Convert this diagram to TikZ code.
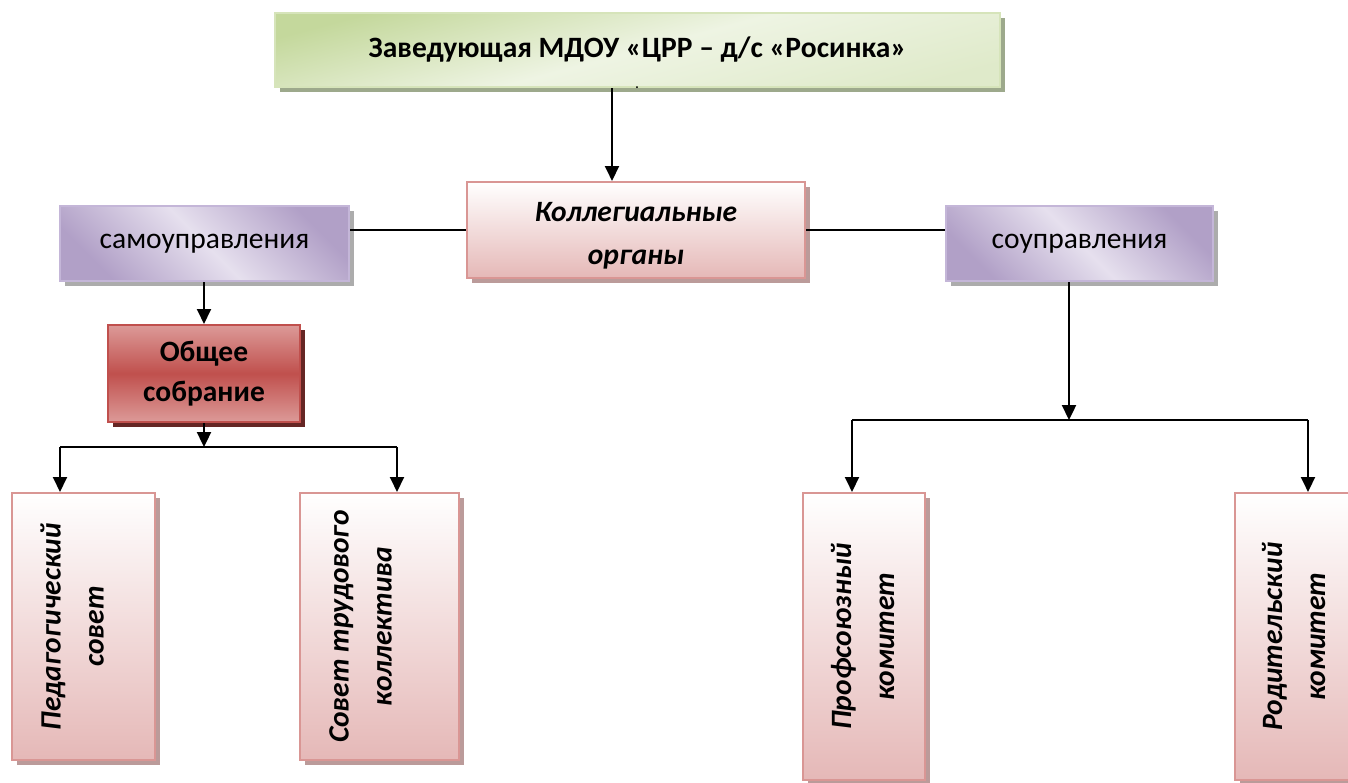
\documentclass[tikz,border=0pt]{standalone}
\usepackage{fontspec}
\setmainfont{Carlito}
\usetikzlibrary{arrows.meta,shadows}
\definecolor{grnA}{HTML}{C4D89C}
\definecolor{grnB}{HTML}{EEF4E3}
\definecolor{grnS}{HTML}{9DA98C}
\definecolor{vioA}{HTML}{B1A0C7}
\definecolor{vioB}{HTML}{E6E0EE}
\definecolor{vioL}{HTML}{C4B6D8}
\definecolor{pnkA}{HTML}{E5B8B7}
\definecolor{pnkL}{HTML}{D99694}
\definecolor{pnkS}{HTML}{BB9B9A}
\definecolor{redA}{HTML}{DC9A98}
\definecolor{redB}{HTML}{C0504D}
\definecolor{redS}{HTML}{652624}
\def\u{0.02cm}
\newcommand{\vlab}[2]{\rotatebox{90}{\begin{tabular}{@{}c@{}}#1\\#2\end{tabular}}}
\begin{document}
\begin{tikzpicture}[x=\u,y=-\u,>={Triangle[length=8.5pt,width=8pt]},line width=1.1pt,
  font=\fontsize{16.8}{24}\selectfont,
  box/.style={draw,line width=1.2pt,inner sep=0pt,align=center},
  headbox/.style={box,draw=grnA!70!white,shading=axis,top color=grnA,bottom color=grnB!65!grnA,middle color=grnB,shading angle=15,
    drop shadow={shadow xshift=2.6pt,shadow yshift=-2.6pt,fill=grnS,opacity=1}},
  vbox/.style={box,draw=vioL,shading=axis,top color=vioA,bottom color=vioA,middle color=vioB,shading angle=-45,
    drop shadow={shadow xshift=2.6pt,shadow yshift=-2.6pt,fill=gray!65,opacity=1}},
  pbox/.style={box,draw=pnkL,top color=white,bottom color=pnkA,
    drop shadow={shadow xshift=2.6pt,shadow yshift=-2.6pt,fill=pnkS,opacity=1}},
  rbox/.style={box,draw=redB,top color=redA,bottom color=redA,middle color=redB,
    drop shadow={shadow xshift=2.6pt,shadow yshift=-2.6pt,fill=redS,opacity=1}},
  vtxt/.style={font=\fontsize{16.8}{24.4}\selectfont\bfseries\itshape,inner sep=0pt}]
\clip (0,0) rectangle (1348,783);
% blocks
\node[headbox,minimum width=725*\u,minimum height=74*\u,font=\fontsize{16.8}{24}\selectfont\bfseries] (head) at (637.5,50) {Заведующая МДОУ «ЦРР – д/с «Росинка»};
\node[font=\fontsize{9}{9}\selectfont] (dot) at (637,88) {.};
\node[pbox,minimum width=338*\u,minimum height=96*\u,font=\fontsize{16.8}{24.4}\selectfont\bfseries\itshape] (koll) at (636,230) {\strut Коллегиальные\\органы};
\node[vbox,minimum width=289*\u,minimum height=75*\u] (samo) at (204.5,243.5) {самоуправления};
\node[vbox,minimum width=267*\u,minimum height=75*\u] (soup) at (1079.5,243.5) {соуправления};
\node[rbox,minimum width=192*\u,minimum height=97*\u,font=\fontsize{16.8}{23}\selectfont\bfseries] (obsh) at (204,373.5) {Общее\\собрание};
\node[pbox,minimum width=143*\u,minimum height=267*\u,label={[vtxt,xshift=-0.2cm]center:\vlab{Педагогический}{совет}}] (ped) at (83.5,626.5) {};
\node[pbox,minimum width=159*\u,minimum height=267*\u,label={[vtxt,xshift=-0.36cm]center:\vlab{Совет трудового}{коллектива}}] (stk) at (379.5,626.5) {};
\node[pbox,minimum width=122*\u,minimum height=287*\u,label={[vtxt]center:\vlab{Профсоюзный}{комитет}}] (prof) at (864,636.5) {};
\node[pbox,minimum width=120*\u,minimum height=287*\u,label={[vtxt]center:\vlab{Родительский}{комитет}}] (rod) at (1295,636.5) {};
% branch points
\coordinate (lj) at (204,447);
\coordinate (lbl) at (60,447);
\coordinate (lbr) at (397,447);
\coordinate (rj) at (1069,420);
\coordinate (rbl) at (852,420);
\coordinate (rbr) at (1308,420);
% connectors
\draw[->] ([xshift=-0.51cm]head.south) -- ([xshift=-0.51cm]head.south |- koll.north);
\draw (samo.east |- koll.west) -- (koll.west);
\draw (koll.east) -- (koll.east -| soup.west);
\draw[->] (samo.south -| obsh.north) -- (obsh.north);
\draw[->] (obsh.south) -- (lj);
\draw (lbl) -- (lbr);
\draw[->] (lbl) -- (lbl |- ped.north);
\draw[->] (lbr) -- (lbr |- stk.north);
\draw[->] (soup.south -| rj) -- (rj);
\draw (rbl) -- (rbr);
\draw[->] (rbl) -- (rbl |- prof.north);
\draw[->] (rbr) -- (rbr |- rod.north);
\end{tikzpicture}
\end{document}
